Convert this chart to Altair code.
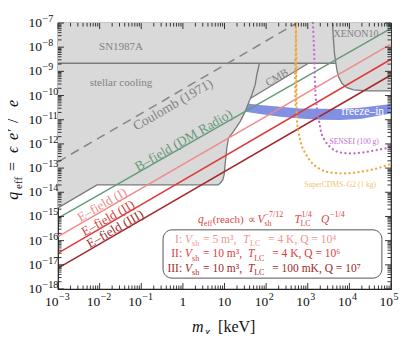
import altair as alt
import pandas as pd

W, H = 333, 266
FONT = "Liberation Serif"

# ---------------- data (log10 of m_chi [keV] and of q_eff) ----------------
grey_logm = [-3.0, -2.063, 0.846, 0.894, 0.959, 0.990, 1.014, 1.055, 1.094, 1.214, 1.375,
             1.495, 1.575, 1.620, 3.017, 3.676, 3.700, 3.738, 3.820, 3.940, 4.099, 4.421, 5.0]
grey_logq = [-14.645, -13.694, -13.694, -13.624, -13.488, -13.281, -12.868, -12.178, -11.764,
             -11.492, -11.079, -10.665, -10.318, -10.12, -8.665, -8.665, -8.942, -9.219, -9.492,
             -9.674, -9.769, -9.810, -9.810]

sn_logm = [-3.0, 3.676]
sn_logq = [-8.665, -8.665]

stellar_logm = [-3.0, -2.063, 0.846, 0.894, 0.959, 0.990, 1.014, 1.055, 1.094, 1.214, 1.375,
                1.495, 1.575, 1.656, 1.736, 1.776, 1.839]
stellar_logq = [-14.645, -13.694, -13.694, -13.624, -13.488, -13.281, -12.868, -12.178, -11.764,
                -11.492, -11.079, -10.665, -10.318, -9.975, -9.562, -9.149, -8.665]

cmb_logm = [1.620, 3.017]
cmb_logq = [-10.12, -8.665]

xenon_logm = [3.594, 3.618, 3.642, 3.676, 3.700, 3.738, 3.820, 3.940, 4.099, 4.421, 5.0]
xenon_logq = [-7.0, -7.702, -8.252, -8.665, -8.942, -9.219, -9.492, -9.674, -9.769, -9.810, -9.810]

coulomb_logm = [-3.0, 2.74]
coulomb_logq = [-12.74, -7.0]

reach_logm = [-3.0, 5.0]
bfield_logq = [-15.07, -7.22]
efield1_logq = [-15.83, -7.87]
efield2_logq = [-16.52, -8.50]
efield3_logq = [-17.14, -9.15]

freeze_logm = [1.30, 1.856, 2.337, 2.817, 3.298, 3.779, 4.260, 5.0]
freeze_top = [-10.28, -10.388, -10.459, -10.533, -10.55, -10.554, -10.5, -10.347]
freeze_bot = [-10.62, -10.760, -10.872, -10.946, -11.0, -11.008, -10.967, -10.74]

sensei_logm = [3.123, 3.154, 3.178, 3.226, 3.274, 3.322, 3.418, 3.563, 3.779, 4.019, 4.332, 4.668, 5.0]
sensei_logq = [-7.0, -8.240, -9.645, -10.595, -11.091, -11.504, -11.876, -12.165, -12.351,
               -12.393, -12.351, -12.248, -12.145]

cdms_logm = [2.714, 2.697, 2.697, 2.709, 2.738, 2.781, 2.841, 2.938, 3.058, 3.250, 3.538,
             3.899, 4.260, 4.620, 5.0]
cdms_logq = [-7.0, -8.529, -9.769, -10.388, -11.008, -11.504, -12.0, -12.372, -12.702, -12.992,
             -13.178, -13.219, -13.157, -13.033, -12.826]

x_ticks = [1e-3, 1e-2, 1e-1, 1, 10, 1e2, 1e3, 1e4, 1e5]
x_tick_base = ["10", "10", "10", "1", "10", "10", "10", "10", "10"]
x_tick_exp = ["−3", "−2", "−1", "", "", "2", "3", "4", "5"]
y_ticks = [10.0 ** e for e in range(-18, -6)]
y_tick_exp = ["−18", "−17", "−16", "−15", "−14", "−13", "−12", "−11", "−10", "−9", "−8", "−7"]
x_minor = [k * 10.0 ** e for e in range(-3, 5) for k in range(2, 10)]
y_minor = [k * 10.0 ** e for e in range(-18, -7) for k in range(2, 10)]

# ---------------- colours ----------------
GREY_FILL = "#d9d9d9"
GREY_LINE = "#7a7a7a"
GREY_TEXT = "#828282"
GREEN = "#679a79"
PINK = "#f08a8a"
RED = "#dc3c3c"
DRED = "#a32a2a"
BLUE = "#8190e2"
PURPLE = "#c06ccb"
ORANGE = "#f0a83c"
INK = "#111111"


def frame(lm, lq, **extra):
    d = {"m": [10 ** a for a in lm], "q": [10 ** b for b in lq]}
    for k, v in extra.items():
        d[k] = [10 ** b for b in v]
    return pd.DataFrame(d)


xs = alt.Scale(type="log", domain=[1e-3, 1e5], nice=False)
ys = alt.Scale(type="log", domain=[1e-18, 1e-7], nice=False)
X = alt.X("m:Q", scale=xs, axis=None)
Y = alt.Y("q:Q", scale=ys, axis=None)

layers = []

# freeze-in band (under the grey exclusion region)
layers.append(alt.Chart(frame(freeze_logm, freeze_bot, q2=freeze_top)).mark_area(color=BLUE)
              .encode(x=X, y=Y, y2=alt.Y2("q2:Q")))

# grey exclusion regions
gdf = frame(grey_logm, grey_logq)
gdf["top"] = 1e-7
layers.append(alt.Chart(gdf).mark_area(color=GREY_FILL)
              .encode(x=X, y=Y, y2=alt.Y2("top:Q")))

for lm, lq in [(sn_logm, sn_logq), (stellar_logm, stellar_logq), (cmb_logm, cmb_logq),
               (xenon_logm, xenon_logq)]:
    layers.append(alt.Chart(frame(lm, lq)).mark_line(color=GREY_LINE, strokeWidth=1.3)
                  .encode(x=X, y=Y))

layers.append(alt.Chart(frame(coulomb_logm, coulomb_logq))
              .mark_line(color="#858585", strokeWidth=1.5, strokeDash=[9, 6]).encode(x=X, y=Y))

for lq, col in [(bfield_logq, GREEN), (efield1_logq, PINK), (efield2_logq, RED), (efield3_logq, DRED)]:
    layers.append(alt.Chart(frame(reach_logm, lq)).mark_line(color=col, strokeWidth=1.5)
                  .encode(x=X, y=Y))

for lm, lq, col in [(sensei_logm, sensei_logq, PURPLE), (cdms_logm, cdms_logq, ORANGE)]:
    layers.append(alt.Chart(frame(lm, lq))
                  .mark_line(color=col, strokeWidth=2.3, strokeDash=[0.1, 4.4], strokeCap="round",
                             interpolate="monotone")
                  .encode(x=X, y=Y))

# legend box
box = pd.DataFrame({"m": [10 ** -0.476], "m2": [10 ** 4.781], "q": [10 ** -15.554], "q2": [10 ** -17.55]})
layers.append(alt.Chart(box).mark_rect(fill="white", stroke="#555", strokeWidth=1, cornerRadius=9)
              .encode(x=X, x2=alt.X2("m2:Q"), y=Y, y2=alt.Y2("q2:Q")))

# ---------------- text annotations (positions in log10 data units) ----------------
ann = []


def add(t, lx, ly, size, color, angle=0, style="normal", align="center", base="middle"):
    ann.append(dict(t=t, m=10 ** lx, q=10 ** ly, size=size, color=color, angle=angle,
                    style=style, align=align, base=base))


add("SN1987A", -1.486, -7.992, 11, GREY_TEXT)
add("stellar cooling", -1.486, -9.479, 11, GREY_TEXT)
add("Coulomb (1971)", -0.236, -10.388, 13.5, GREY_TEXT, 330)
add("CMB", 2.264, -9.273, 11, GREY_TEXT, 329)
add("XENON10", 4.16, -7.455, 10, GREY_TEXT)
add("freeze–in", 4.32, -10.698, 11.5, "white")
add("SENSEI (100 g)", 4.115, -11.905, 7.5, PURPLE)
add("SuperCDMS–G2 (1 kg)", 3.779, -13.694, 7.5, "#f2c46e")
add("B–field (DM Radio)", 0.02, -11.86, 13.5, GREEN, 330)
add("E–field (I)", -1.942, -14.52, 13, PINK, 330)
add("E–field (II)", -1.798, -15.07, 13, RED, 330)
add("E–field (III)", -1.630, -15.52, 13, DRED, 330)

# formula line
FC = "#d94848"
mb, sb, pb = -15.252, -15.409, -15.017
add("q", 0.365, mb, 11.5, FC, style="italic", align="left", base="alphabetic")
add("eff", 0.500, sb, 8, FC, align="left", base="alphabetic")
add("(reach)", 0.715, mb, 11, FC, align="left", base="alphabetic")
add("∝", 1.555, mb, 11, FC, align="left", base="alphabetic")
add("V", 1.790, mb, 11.5, FC, style="italic", align="left", base="alphabetic")
add("sh", 1.960, sb, 8, FC, align="left", base="alphabetic")
add("−7/12", 1.960, pb, 8, FC, align="left", base="alphabetic")
add("T", 2.680, mb, 11.5, FC, style="italic", align="left", base="alphabetic")
add("LC", 2.824, sb, 8, FC, align="left", base="alphabetic")
add("1/4", 2.848, pb, 8, FC, align="left", base="alphabetic")
add("Q", 3.320, mb, 11.5, FC, style="italic", align="left", base="alphabetic")
add("−1/4", 3.537, pb, 8, FC, align="left", base="alphabetic")

# legend lines
for lab, col, b, s, vol, tx, tsub, rest in [
    ("I:", "#f29494", -16.091, -16.236, "= 5 m³,", 1.447, 1.615, "= 4 K, Q = 10⁴"),
    ("II:", RED, -16.690, -16.835, "= 10 m³,", 1.567, 1.712, "= 4 K, Q = 10⁶"),
    ("III:", DRED, -17.289, -17.434, "= 10 m³,", 1.567, 1.712, "= 100 mK, Q = 10⁷"),
]:
    add(lab, -0.019, b, 11.5, col, align="right", base="alphabetic")
    add("V", 0.053, b, 11.5, col, style="italic", align="left", base="alphabetic")
    add("sh", 0.221, s, 8, col, align="left", base="alphabetic")
    add(vol, 0.486, b, 11.5, col, align="left", base="alphabetic")
    add("T", tx, b, 11.5, col, style="italic", align="left", base="alphabetic")
    add("LC", tsub, s, 8, col, align="left", base="alphabetic")
    add(rest, tsub + 0.433, b, 11.5, col, align="left", base="alphabetic")

# axis titles
add("q", -3.97, -14.314, 16, INK, 270, "italic", "left", "alphabetic")
add("eff", -3.87, -13.860, 11, INK, 270, "normal", "left", "alphabetic")
add("=", -3.97, -13.116, 16, INK, 270, "normal", "left", "alphabetic")
add("ϵ", -3.97, -12.372, 16, INK, 270, "italic", "left", "alphabetic")
add("e′", -3.97, -11.835, 16, INK, 270, "italic", "left", "alphabetic")
add("/", -3.97, -11.132, 16, INK, 270, "normal", "left", "alphabetic")
add("e", -3.97, -10.471, 16, INK, 270, "italic", "left", "alphabetic")
add("m", 0.221, -19.769, 16, INK, 0, "italic", "left", "alphabetic")
add("χ", 0.534, -19.913, 11, INK, 0, "italic", "left", "alphabetic")
add("[keV]", 0.846, -19.769, 16, INK, 0, "normal", "left", "alphabetic")

adf = pd.DataFrame(ann)
for (style, align, base), sub in adf.groupby(["style", "align", "base"]):
    layers.append(alt.Chart(sub).mark_text(font=FONT, fontStyle=style, align=align, baseline=base)
                  .encode(x=X, y=Y, text=alt.Text("t:N"),
                          color=alt.Color("color:N", scale=None),
                          size=alt.Size("size:Q", scale=None),
                          angle=alt.Angle("angle:Q", scale=None)))

# ---------------- tick labels ----------------
xl = pd.DataFrame({"v": x_ticks, "b": x_tick_base, "e": x_tick_exp})
XV = alt.X("v:Q", scale=xs, axis=None)
neg = xl[xl["e"].str.startswith("−")]
pos = xl[(xl["e"] != "") & ~xl["e"].str.startswith("−")]
plain = xl[xl["e"] == ""]
for sub, dx in [(neg, 0.5), (pos, 2)]:
    layers.append(alt.Chart(sub).mark_text(font=FONT, fontSize=13.5, align="right", baseline="middle",
                                           dx=dx, color=INK)
                  .encode(x=XV, y=alt.value(H + 13), text="b:N"))
    layers.append(alt.Chart(sub).mark_text(font=FONT, fontSize=10, align="left", baseline="middle",
                                           dx=dx + 0.5, color=INK)
                  .encode(x=XV, y=alt.value(H + 7.5), text="e:N"))
layers.append(alt.Chart(plain).mark_text(font=FONT, fontSize=13.5, align="center", baseline="middle",
                                         color=INK)
              .encode(x=XV, y=alt.value(H + 13), text="b:N"))

yl = pd.DataFrame({"v": y_ticks, "b": ["10"] * len(y_ticks), "e": y_tick_exp})
YV = alt.Y("v:Q", scale=ys, axis=None)
layers.append(alt.Chart(yl).mark_text(font=FONT, fontSize=13.5, align="right", baseline="middle", color=INK)
              .encode(y=YV, x=alt.value(-16), text="b:N"))
layers.append(alt.Chart(yl).mark_text(font=FONT, fontSize=10, align="left", baseline="middle", dy=-4,
                                      color=INK)
              .encode(y=YV, x=alt.value(-15.5), text="e:N"))


# ---------------- inward ticks on all four sides ----------------
def ticks(vals, axis, side, length):
    d = pd.DataFrame({"v": vals})
    if axis == "x":
        enc = dict(x=XV)
        if side == "bottom":
            enc.update(y=alt.value(H), y2=alt.value(H - length))
        else:
            enc.update(y=alt.value(0), y2=alt.value(length))
    else:
        enc = dict(y=YV)
        if side == "left":
            enc.update(x=alt.value(0), x2=alt.value(length))
        else:
            enc.update(x=alt.value(W), x2=alt.value(W - length))
    return alt.Chart(d).mark_rule(color="#222", strokeWidth=0.9).encode(**enc)


for side in ["bottom", "top"]:
    layers.append(ticks(x_ticks, "x", side, 6))
    layers.append(ticks(x_minor, "x", side, 3.5))
for side in ["left", "right"]:
    layers.append(ticks(y_ticks, "y", side, 6))
    layers.append(ticks(y_minor, "y", side, 3.5))

chart = (alt.layer(*layers)
         .properties(width=W, height=H, autosize=alt.AutoSizeParams(type="none"),
                     padding={"left": 50, "top": 15, "right": 16, "bottom": 45})
         .configure_view(stroke="#222", strokeWidth=1.2))

chart.save("out.html", embed_options={"renderer": "svg", "actions": False})
